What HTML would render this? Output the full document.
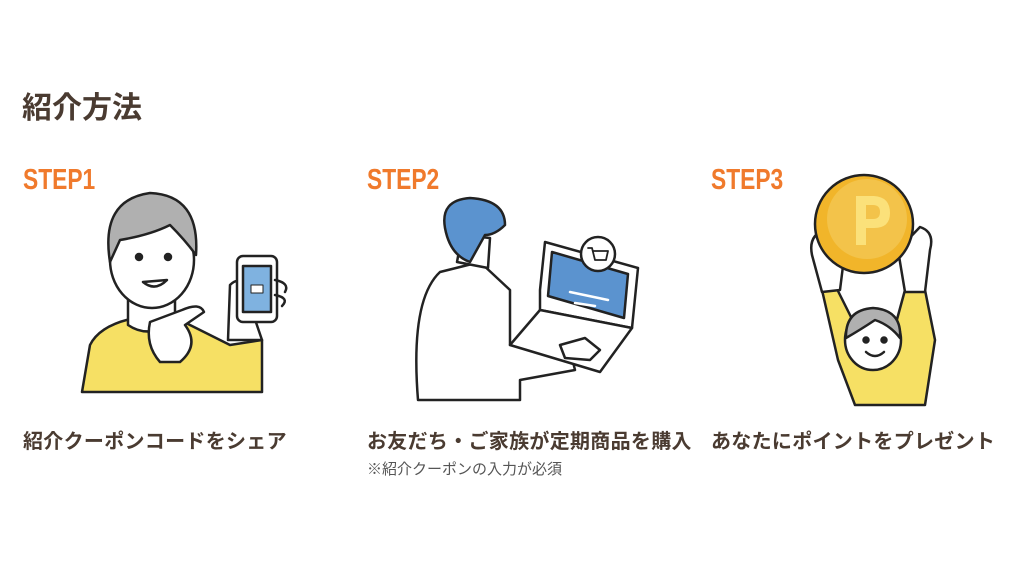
<!DOCTYPE html>
<html><head><meta charset="utf-8"><style>
body{margin:0;width:1024px;height:576px;background:#fff;position:relative;overflow:hidden;font-family:"Liberation Sans","Noto Sans CJK JP",sans-serif;color:#4a3b31}
.t{position:absolute;left:22px;top:89px;font-size:30px;font-weight:bold;line-height:40px}
.s{position:absolute;top:164px;font-size:24px;font-weight:900;color:#f07a2c;font-family:"Liberation Sans",sans-serif;line-height:28px;transform:scale(0.95,1.2);transform-origin:0 0}
.c{position:absolute;top:429px;font-size:20px;font-weight:bold;white-space:nowrap;line-height:26px;letter-spacing:0.3px}
.n{position:absolute;left:367px;top:460px;font-size:15px;color:#555;line-height:20px}
svg{position:absolute;left:0;top:0}
</style></head><body>
<div class="t">紹介方法</div>
<div class="s" style="left:23px">STEP1</div>
<div class="s" style="left:367px">STEP2</div>
<div class="s" style="left:711px">STEP3</div>
<div class="c" style="left:23px">紹介クーポンコードをシェア</div>
<div class="c" style="left:367px">お友だち・ご家族が定期商品を購入</div>
<div class="n">※紹介クーポンの入力が必須</div>
<div class="c" style="left:711px">あなたにポイントをプレゼント</div>
<svg width="1024" height="576" stroke="#222" stroke-width="2.5" stroke-linejoin="round" stroke-linecap="round">
<!-- STEP1 -->
<path d="M82 392 L90 345 Q100 325 135 318 L180 320 L230 345 L262 340 L262 392 Z" fill="#f6e064"/>
<path d="M128 300 L128 325 Q150 340 175 320 L175 295" fill="#fff"/>
<ellipse cx="152" cy="260" rx="42" ry="48" fill="#fff"/>
<path d="M110 262 Q100 200 150 193 Q200 195 196 255 Q185 240 170 225 Q150 235 120 240 Z" fill="#b0b0b0"/>
<circle cx="139" cy="257" r="3" fill="#222"/><circle cx="168" cy="257" r="3" fill="#222"/>
<path d="M143 282 Q155 292 167 280 Z" fill="#fff"/>
<path d="M150 322 L182 310 Q200 302 204 312 L185 325 Q200 345 180 362 L160 362 Q145 345 150 322Z" fill="#fff"/>
<path d="M228 340 L230 285 Q240 275 245 290 L262 340 Z" fill="#fff"/>
<rect x="237" y="256" width="40" height="66" rx="6" fill="#fff"/>
<rect x="243" y="266" width="28" height="46" fill="#7fb2e0"/>
<rect x="251" y="285" width="12" height="8" fill="#fff" stroke-width="1"/>
<path d="M275 280 Q290 283 285 292 M275 295 Q290 298 282 306" fill="none"/>
<!-- STEP2 -->
<path d="M418 400 Q410 300 440 272 L480 262 L510 290 L510 345 L570 350 L575 370 L520 380 L520 400 Z" fill="#fff"/>
<path d="M457 262 L462 235 L490 238 L488 268 Z" fill="#fff"/>
<path d="M445 228 Q440 200 470 198 Q505 200 505 225 Q495 235 485 235 L470 262 Q450 255 445 228Z" fill="#5b93cf"/>
<path d="M540 290 L545 242 L638 268 L632 328 L540 310 Z" fill="#fff"/>
<path d="M548 296 L552 252 L628 274 L624 318 Z" fill="#5b93cf"/>
<path d="M570 292 L608 300 M575 303 L595 306" stroke="#fff" fill="none"/>
<path d="M510 345 L540 310 L632 328 L600 372 Z" fill="#fff"/>
<path d="M560 345 L585 338 L600 350 L590 360 L565 358 Z" fill="#fff"/>
<circle cx="598" cy="254" r="17" fill="#fff"/>
<path d="M588 248 L592 248 L595 260 L606 260 L608 251 L593 251" fill="none" stroke-width="1.8"/>
<!-- STEP3 -->
<path d="M822 290 L835 285 L865 345 L890 345 L905 290 L925 290 L935 340 L925 405 L855 405 L838 360 Z" fill="#f6e064"/>
<path d="M812 255 Q808 235 825 230 L845 250 L840 290 L822 292 Z" fill="#fff"/>
<path d="M930 250 Q935 232 920 227 L898 250 L905 292 L925 292 Z" fill="#fff"/>
<circle cx="864" cy="224" r="49" fill="#f1b52a"/>
<circle cx="867" cy="219" r="40" fill="#f3c34a" stroke="none"/>
<path d="M856 245 L856 196 L874 196 Q890 197 890 213 Q890 228 874 228 L866 228 L866 245 Z M866 205 L866 219 L873 219 Q880 219 880 212 Q880 205 873 205Z" fill="#fbe17a" stroke="none" fill-rule="evenodd"/>
<ellipse cx="873" cy="340" rx="28" ry="30" fill="#fff"/>
<path d="M846 338 Q845 310 873 308 Q902 310 900 338 Q890 325 875 320 Q860 330 846 338Z" fill="#b0b0b0"/>
<circle cx="866" cy="340" r="2.5" fill="#222"/><circle cx="884" cy="340" r="2.5" fill="#222"/>
<path d="M866 352 Q875 360 884 352" fill="none"/>
</svg>
</body></html>
